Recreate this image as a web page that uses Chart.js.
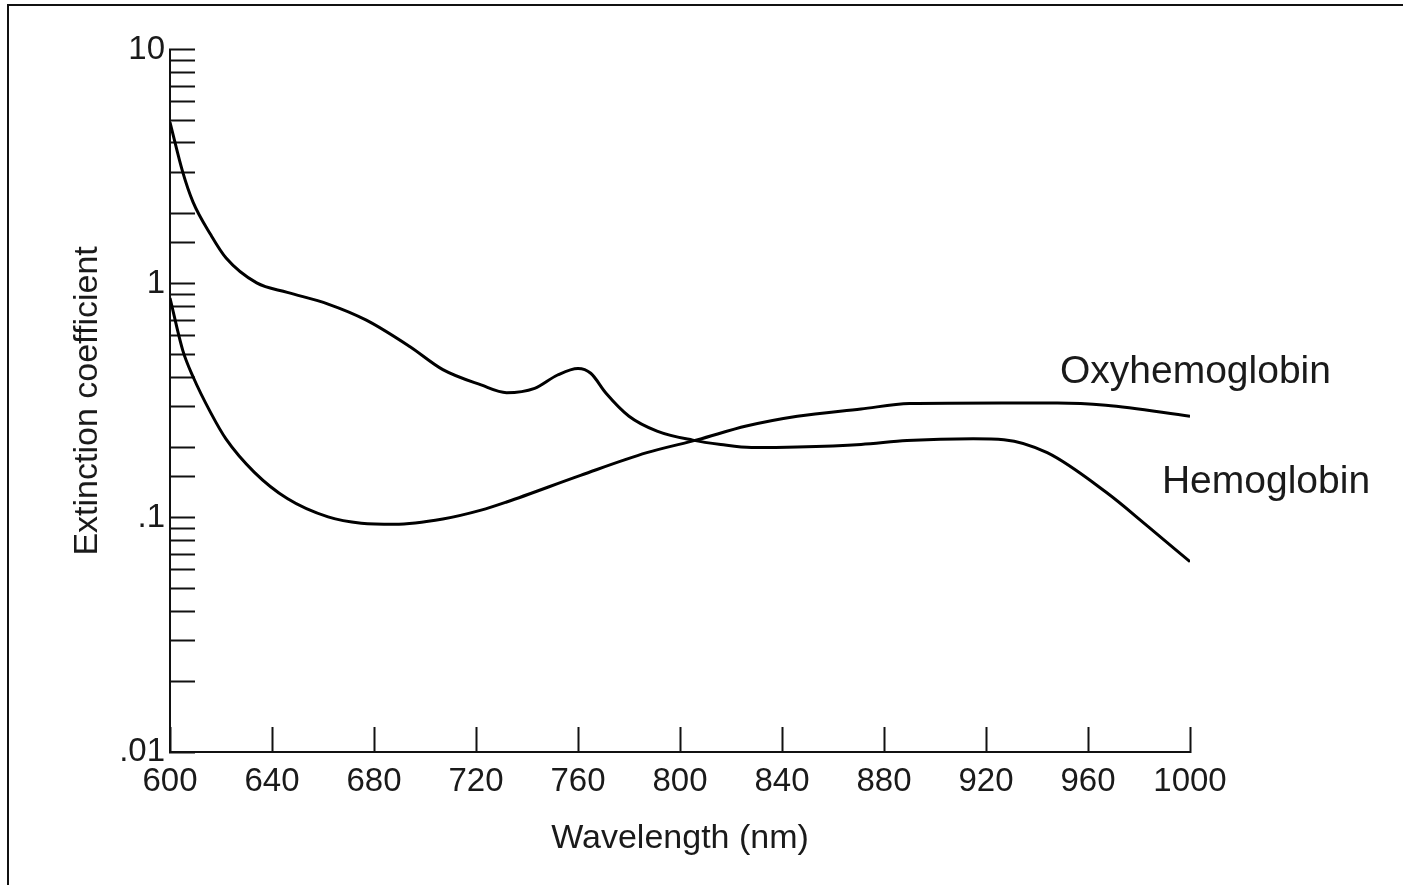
<!DOCTYPE html>
<html>
<head>
<meta charset="utf-8">
<script src="https://cdn.jsdelivr.net/npm/chart.js@4"></script>
<style>
  html, body { margin: 0; padding: 0; background: #fff; }
  #wrap { position: relative; width: 1403px; height: 885px; }
  #frame { position: absolute; left: 7px; top: 4px; right: 0; bottom: 0;
           border-top: 2px solid #111; border-left: 2px solid #111; pointer-events: none; }
</style>
</head>
<body>
<div id="wrap">
  <canvas id="c"></canvas>
  <div id="frame"></div>
</div>
<script>
// ---- Data ----
const hbWavelengths = [600, 605, 609, 616, 622, 634, 646, 662, 677, 694, 707, 722, 732, 743, 752, 760, 765, 771, 780, 791, 805, 816, 828, 846, 871, 889, 915, 927, 944, 967, 983, 1000];
const hbValues      = [4.9, 3.0, 2.24, 1.62, 1.29, 1.01, 0.92, 0.82, 0.70, 0.54, 0.43, 0.37, 0.343, 0.358, 0.408, 0.435, 0.415, 0.341, 0.272, 0.235, 0.215, 0.206, 0.200, 0.201, 0.206, 0.214, 0.218, 0.216, 0.190, 0.129, 0.093, 0.065];

const hbo2Wavelengths = [600, 605, 609, 616, 622, 633, 646, 662, 675, 688, 707, 722, 732, 761, 787, 807, 826, 846, 871, 890, 926, 948, 967, 1000];
const hbo2Values      = [0.87, 0.52, 0.402, 0.281, 0.217, 0.157, 0.121, 0.101, 0.095, 0.094, 0.099, 0.108, 0.117, 0.152, 0.190, 0.216, 0.247, 0.272, 0.292, 0.308, 0.310, 0.310, 0.303, 0.272];

const xTickValues = [600, 640, 680, 720, 760, 800, 840, 880, 920, 960, 1000];
const yLabelMap = { 10: '10', 1: '1', 0.1: '.1', 0.01: '.01' };
const seriesNames = ['Hemoglobin', 'Oxyhemoglobin'];

// ---- Build ----
const toPoints = (xs, ys) => xs.map((x, i) => ({ x: x, y: ys[i] }));
const FONT = "'Liberation Sans', Arial, sans-serif";
const INK = '#1a1a1a';

const labelPlugin = {
  id: 'curveLabels',
  afterDraw(chart, args, opts) {
    const ctx = chart.ctx;
    const xs = chart.scales.x, ys = chart.scales.y;
    ctx.save();
    ctx.font = opts.font;
    ctx.fillStyle = opts.color;
    ctx.textAlign = 'left';
    ctx.textBaseline = 'middle';
    opts.items.forEach(it => {
      ctx.fillText(it.text, xs.getPixelForValue(it.x), ys.getPixelForValue(it.y));
    });
    ctx.restore();
  }
};

new Chart(document.getElementById('c'), {
  type: 'line',
  data: {
    datasets: [
      { label: seriesNames[0], data: toPoints(hbWavelengths, hbValues),
        borderColor: '#000', borderWidth: 3, pointRadius: 0,
        cubicInterpolationMode: 'monotone', fill: false },
      { label: seriesNames[1], data: toPoints(hbo2Wavelengths, hbo2Values),
        borderColor: '#000', borderWidth: 3, pointRadius: 0,
        cubicInterpolationMode: 'monotone', fill: false }
    ]
  },
  options: {
    responsive: true,
    maintainAspectRatio: false,
    animation: false,
    layout: { padding: { left: 0, top: 43, right: 213, bottom: 0 } },
    plugins: {
      legend: { display: false },
      tooltip: { enabled: false },
      curveLabels: {
        font: "39px " + FONT,
        color: INK,
        items: [
          { text: seriesNames[1], x: 949, y: 0.42 },
          { text: seriesNames[0], x: 989, y: 0.142 }
        ]
      }
    },
    scales: {
      x: {
        type: 'linear',
        min: 600, max: 1000,
        afterBuildTicks(scale) { scale.ticks = xTickValues.map(v => ({ value: v })); },
        afterFit(scale) { scale.height = 133; },
        ticks: {
          autoSkip: false, maxRotation: 0, padding: 35,
          color: INK, font: { family: FONT, size: 33 },
          callback: v => String(v)
        },
        grid: { drawOnChartArea: false, drawTicks: true, tickLength: -25,
                tickColor: '#111', tickWidth: 2 },
        border: { display: true, color: '#111', width: 2 },
        title: { display: true, text: 'Wavelength (nm)', color: INK,
                 font: { family: FONT, size: 34 }, padding: { top: 0, bottom: 26 } }
      },
      y: {
        type: 'logarithmic',
        min: 0.01, max: 10,
        afterFit(scale) { scale.width = 170; },
        ticks: {
          autoSkip: false, padding: 30,
          color: INK, font: { family: FONT, size: 33 },
          callback: function (v) {
            const key = Object.keys(yLabelMap).find(k => Math.abs(Number(k) - v) < 1e-9 * Math.max(1, v));
            return key !== undefined ? yLabelMap[key] : '';
          }
        },
        grid: { drawOnChartArea: false, drawTicks: true, tickLength: -25,
                tickColor: '#111', tickWidth: 2 },
        border: { display: true, color: '#111', width: 2 },
        title: { display: true, text: 'Extinction coefficient', color: INK,
                 font: { family: FONT, size: 34 }, padding: { top: 67, bottom: 0 } }
      }
    }
  },
  plugins: [labelPlugin]
});
</script>
</body>
</html>
